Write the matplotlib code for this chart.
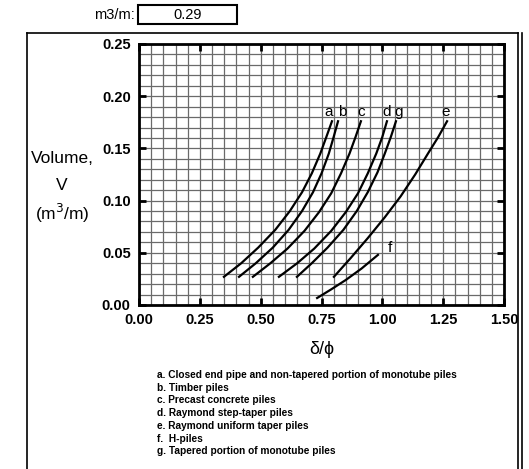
import numpy as np
import matplotlib.pyplot as plt
from matplotlib.lines import Line2D
from matplotlib.patches import Rectangle
from matplotlib.ticker import MultipleLocator

plt.rcParams['font.family'] = ['Liberation Sans', 'DejaVu Sans']

# curves (delta/phi, volume m3/m)
a_x = [0.349, 0.42, 0.49, 0.56, 0.62, 0.67, 0.71, 0.745, 0.77, 0.793]
a_y = [0.027, 0.040, 0.055, 0.072, 0.090, 0.108, 0.126, 0.145, 0.161, 0.176]
b_x = [0.411, 0.48, 0.55, 0.615, 0.67, 0.715, 0.75, 0.78, 0.80, 0.818]
b_y = [0.027, 0.040, 0.055, 0.072, 0.090, 0.108, 0.126, 0.145, 0.161, 0.176]
c_x = [0.468, 0.54, 0.61, 0.68, 0.74, 0.79, 0.83, 0.865, 0.89, 0.912]
c_y = [0.027, 0.040, 0.054, 0.071, 0.089, 0.107, 0.126, 0.145, 0.161, 0.176]
d_x = [0.575, 0.65, 0.72, 0.79, 0.85, 0.90, 0.94, 0.975, 1.00, 1.019]
d_y = [0.027, 0.040, 0.054, 0.071, 0.089, 0.107, 0.126, 0.145, 0.161, 0.176]
g_x = [0.649, 0.71, 0.775, 0.84, 0.895, 0.94, 0.98, 1.01, 1.035, 1.056]
g_y = [0.027, 0.040, 0.055, 0.072, 0.090, 0.108, 0.127, 0.145, 0.161, 0.176]
e_x = [0.801, 0.87, 0.94, 1.01, 1.075, 1.135, 1.19, 1.23, 1.266]
e_y = [0.027, 0.045, 0.064, 0.084, 0.104, 0.125, 0.146, 0.161, 0.176]
f_x = [0.732, 0.79, 0.85, 0.915, 0.982]
f_y = [0.0067, 0.015, 0.024, 0.035, 0.048]

curves = {'a': (a_x, a_y), 'b': (b_x, b_y), 'c': (c_x, c_y), 'd': (d_x, d_y),
          'g': (g_x, g_y), 'e': (e_x, e_y), 'f': (f_x, f_y)}
label_pos = {'a': (0.778, 0.185), 'b': (0.835, 0.185), 'c': (0.913, 0.185),
             'd': (1.016, 0.185), 'g': (1.065, 0.185), 'e': (1.262, 0.185),
             'f': (1.031, 0.055)}

legend_lines = [
    'a. Closed end pipe and non-tapered portion of monotube piles',
    'b. Timber piles',
    'c. Precast concrete piles',
    'd. Raymond step-taper piles',
    'e. Raymond uniform taper piles',
    'f.  H-piles',
    'g. Tapered portion of monotube piles',
]
box_value = '0.29'

fig = plt.figure(figsize=(5.29, 4.69), dpi=100)
ax = fig.add_axes([139/529, 1 - 305/469, 365/529, 261/469])

for k, (xs, ys) in curves.items():
    ax.plot(xs, ys, color='black', lw=1.6, solid_joinstyle='round')
    lx, ly = label_pos[k]
    ax.text(lx, ly, k, fontsize=11, ha='center', va='center')

ax.set_xlim(0, 1.5)
ax.set_ylim(0, 0.25)
ax.xaxis.set_major_locator(MultipleLocator(0.25))
ax.xaxis.set_minor_locator(MultipleLocator(0.05))
ax.yaxis.set_major_locator(MultipleLocator(0.05))
ax.yaxis.set_minor_locator(MultipleLocator(0.01))
ax.grid(which='both', color='#6a6a6a', lw=0.9)
ax.set_axisbelow(True)
ax.tick_params(which='major', direction='in', length=5, width=2,
               top=True, right=True, labelsize=10.5, pad=6)
ax.tick_params(which='minor', length=0)
for lab in ax.get_xticklabels() + ax.get_yticklabels():
    lab.set_fontweight('bold')
ax.xaxis.set_major_formatter(plt.FormatStrFormatter('%.2f'))
ax.yaxis.set_major_formatter(plt.FormatStrFormatter('%.2f'))
for s in ax.spines.values():
    s.set_linewidth(2)

ax.set_xlabel('δ/ϕ', fontsize=13, labelpad=10)

# y label as three centred lines
fig.text(62/529, 1 - 158/469, 'Volume,', fontsize=12.5, ha='center', va='center')
fig.text(62/529, 1 - 186/469, 'V', fontsize=12.5, ha='center', va='center')
fig.text(62/529, 1 - 213/469, '(m$^3$/m)', fontsize=12.5, ha='center', va='center')

# legend text under the chart
for i, t in enumerate(legend_lines):
    fig.text(157/529, 1 - (375 + i*12.7)/469, t, fontsize=7.3,
             fontweight='bold', ha='left', va='center')

# outer frame (open at bottom) with double right edge
for seg in [((27, 27), (33, 469)), ((27, 518), (33, 33)),
            ((518, 518), (33, 469)), ((522, 522), (33, 469))]:
    fig.add_artist(Line2D([seg[0][0]/529, seg[0][1]/529],
                          [1 - seg[1][0]/469, 1 - seg[1][1]/469],
                          color='black', lw=1.2))

# value box at the top
fig.text(135/529, 1 - 15/469, 'm3/m:', fontsize=10.5, ha='right', va='center')
fig.add_artist(Rectangle((138/529, 1 - 24/469), 99/529, 19/469,
                         fill=False, edgecolor='black', lw=1.5))
fig.text(188/529, 1 - 15/469, box_value, fontsize=10.5, ha='center', va='center')

fig.savefig('out.png', dpi=100)
